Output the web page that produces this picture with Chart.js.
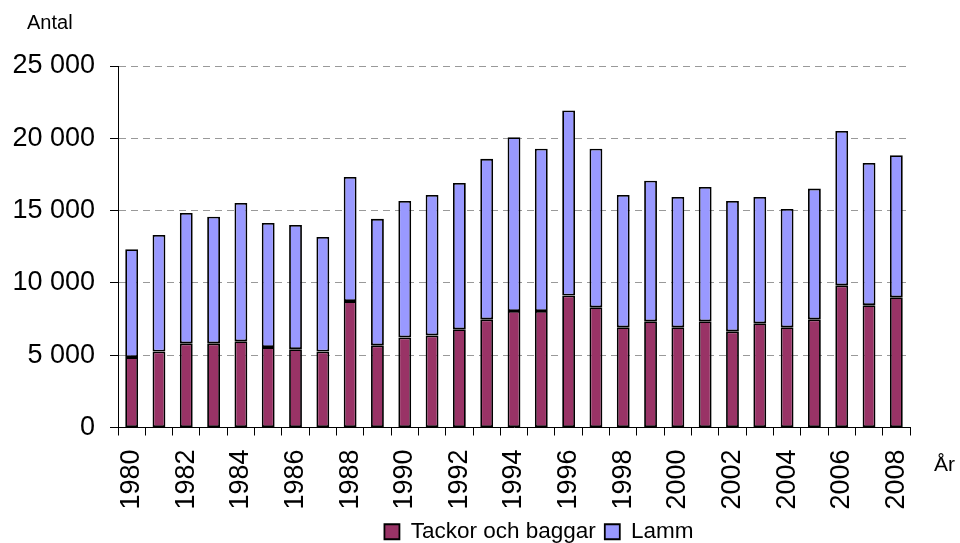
<!DOCTYPE html>
<html>
<head>
<meta charset="utf-8">
<script src="https://cdn.jsdelivr.net/npm/chart.js@4"></script>
<style>
  body { margin: 0; background: #fff; }
</style>
</head>
<body>
<canvas id="c" width="960" height="543"></canvas>
<script>
const years = ['1980', '1981', '1982', '1983', '1984', '1985', '1986', '1987', '1988', '1989',
               '1990', '1991', '1992', '1993', '1994', '1995', '1996', '1997', '1998', '1999',
               '2000', '2001', '2002', '2003', '2004', '2005', '2006', '2007', '2008'];
const tackor = [4870, 5260, 5820, 5820, 5960, 5560, 5420, 5260, 8740, 5680,
                6230, 6370, 6790, 7480, 8060, 8060, 9130, 8320, 6930, 7350,
                6930, 7350, 6650, 7210, 6930, 7480, 9830, 8460, 9010];
const lamm = [7460, 8060, 9010, 8750, 9570, 8580, 8580, 7920, 8590, 8750,
              9430, 9710, 10120, 11100, 12020, 11220, 12790, 10960, 9150, 9720,
              9010, 9290, 9010, 8730, 8180, 9040, 10670, 9840, 9820];
const yTicks = [0, 5000, 10000, 15000, 20000, 25000];

const FONT = "'Liberation Sans', Arial, sans-serif";

// "Antal" above the y axis and "År" after the x axis, plus legend placement
const extras = {
    id: 'extras',
    afterLayout(chart) {
        const lg = chart.legend;
        const dx = 539 - (lg.left + lg.right) / 2;
        lg.left += dx; lg.right += dx;
    },
    afterDraw(chart) {
        const ctx = chart.ctx;
        ctx.save();
        ctx.fillStyle = '#000';
        ctx.textBaseline = 'middle';
        ctx.textAlign = 'left';
        ctx.font = '20px ' + FONT;
        ctx.fillText('Antal', 27, 23);
        ctx.font = '21px ' + FONT;
        ctx.fillText('År', 934, 465);
        ctx.restore();
    }
};

new Chart(document.getElementById('c').getContext('2d'), {
    type: 'bar',
    data: {
        labels: years,
        datasets: [{
            label: 'Tackor och baggar',
            data: tackor,
            backgroundColor: '#993366',
            borderColor: '#000',
            borderWidth: 1.8,
            borderSkipped: false,
            barPercentage: 0.47,
            categoryPercentage: 1
        }, {
            label: 'Lamm',
            data: lamm,
            backgroundColor: '#9999FF',
            borderColor: '#000',
            borderWidth: 1.8,
            borderSkipped: false,
            barPercentage: 0.47,
            categoryPercentage: 1
        }]
    },
    options: {
        responsive: false,
        animation: false,
        devicePixelRatio: 1,
        layout: { padding: { top: 66, right: 50, bottom: -10, left: 0 } },
        scales: {
            x: {
                stacked: true,
                afterFit(s) { s.height = 84; },
                grid: { drawOnChartArea: false, tickLength: 8, tickColor: '#000' },
                border: { color: '#000', width: 1 },
                ticks: {
                    autoSkip: false,
                    maxRotation: 90,
                    minRotation: 90,
                    padding: 14,
                    color: '#000',
                    font: { family: FONT, size: 27 },
                    callback: function (v, i) { return i % 2 === 0 ? this.getLabelForValue(v) : ''; }
                }
            },
            y: {
                stacked: true,
                min: 0,
                max: 25000,
                afterFit(s) { s.width = 118; },
                afterBuildTicks(s) { s.ticks = yTicks.map(v => ({ value: v })); },
                grid: {
                    color: (c) => c.tick && c.tick.value === 0 ? 'rgba(0,0,0,0)' : '#999',
                    lineWidth: 1,
                    tickLength: 8,
                    tickColor: '#000'
                },
                border: { color: '#000', width: 1, dash: [7, 5] },
                ticks: {
                    padding: 15,
                    color: '#000',
                    font: { family: FONT, size: 27 },
                    callback: (v) => String(v).replace(/\B(?=(\d{3})+(?!\d))/g, ' ')
                }
            }
        },
        plugins: {
            legend: {
                position: 'bottom',
                labels: {
                    color: '#000',
                    font: { family: FONT, size: 22.5 },
                    boxWidth: 15,
                    boxHeight: 15,
                    padding: 9
                }
            },
            tooltip: { enabled: false }
        }
    },
    plugins: [extras]
});
</script>
</body>
</html>
